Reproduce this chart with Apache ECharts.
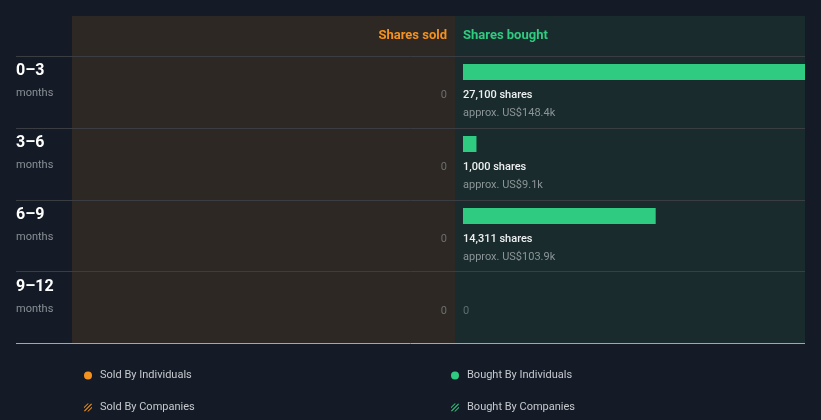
<!DOCTYPE html>
<html>
<head>
<meta charset="utf-8">
<script src="https://cdn.jsdelivr.net/npm/echarts@6/dist/echarts.min.js"></script>
<style>
html,body{margin:0;padding:0;background:#151b26;}
#c{width:821px;height:420px;}
</style>
</head>
<body>
<div id="c"></div>
<script>
const categories = ['0–3', '3–6', '6–9', '9–12'];
const rowUnit = 'months';
const soldByIndividuals = [0, 0, 0, 0];
const soldByCompanies = [0, 0, 0, 0];
const boughtByIndividuals = [27100, 1000, 14311, 0];
const boughtValueK = [148.4, 9.1, 103.9, 0];
const boughtByCompanies = [0, 0, 0, 0];
const boughtAxisMax = 25400;

const FONT = 'Roboto, "Noto Sans", sans-serif';
const ORANGE = '#f5911e';
const GREEN = '#2ecb80';
const hatch = 'path://M0,4.5 L4.5,0 L6,0 L0,6 Z M0,9 L9,0 L10,1 L1,10 Z M4,10 L10,4 L10,5.5 L5.5,10 Z';

function fmt(n) { return n.toLocaleString('en-US'); }

function soldItem(params, api) {
  const v = api.value(0), cat = api.value(1);
  const p0 = api.coord([0, cat]);
  return {
    type: 'text',
    style: { text: fmt(v), x: p0[0], y: p0[1] + 3, align: 'right', verticalAlign: 'middle',
      fill: '#6c6f72', font: '11px ' + FONT }
  };
}

function boughtItem(params, api) {
  const v = api.value(0), cat = api.value(1), usd = api.value(2);
  const p0 = api.coord([0, cat]);
  const p1 = api.coord([v, cat]);
  const bandH = api.size([0, 1])[1];
  const top = p0[1] - bandH / 2;
  const cs = params.coordSys;
  if (!v) {
    return { type: 'text', style: { text: '0', x: p0[0], y: p0[1] + 3, align: 'left', verticalAlign: 'middle',
      fill: '#5f6e70', font: '11px ' + FONT } };
  }
  const right = Math.min(p1[0], cs.x + cs.width);
  return {
    type: 'group',
    children: [
      { type: 'rect', shape: { x: p0[0], y: top + 8, width: right - p0[0], height: 16 }, style: { fill: GREEN } },
      { type: 'text', style: { text: fmt(v) + ' shares', x: p0[0], y: p0[1] + 3, align: 'left', verticalAlign: 'middle',
        fill: '#eef0f1', font: '500 11px ' + FONT } },
      { type: 'text', style: { text: 'approx. US$' + usd + 'k', x: p0[0], y: p0[1] + 21, align: 'left', verticalAlign: 'middle',
        fill: '#8b9597', font: '11px ' + FONT } }
    ]
  };
}

function companyItem(params, api) {
  const v = api.value(0), cat = api.value(1);
  if (!v) return null;
  const p0 = api.coord([0, cat]);
  const p1 = api.coord([v, cat]);
  const bandH = api.size([0, 1])[1];
  return { type: 'rect', shape: { x: Math.min(p0[0], p1[0]), y: p0[1] - bandH / 2 + 8, width: Math.abs(p1[0] - p0[0]), height: 16 },
    style: { fill: api.visual('color') } };
}

function legendAt(left, top, name, icon) {
  return { left: left, top: top, padding: 0, orient: 'horizontal', itemWidth: 8, itemHeight: 8, selectedMode: false,
    textStyle: { color: '#c5c9ce', fontSize: 11, lineHeight: 14, padding: [0, 0, 0, 3] },
    data: [{ name: name, icon: icon }] };
}

const hidden = { show: false };
const chart = echarts.init(document.getElementById('c'), null, { renderer: 'canvas' });
chart.setOption({
  backgroundColor: '#151b26',
  animation: false,
  textStyle: { fontFamily: FONT },
  grid: [
    { left: 72, width: 383, top: 16, height: 327, show: true, backgroundColor: '#2d2823', borderWidth: 0 },
    { left: 455, right: 16, top: 16, height: 327, show: true, backgroundColor: '#192b2d', borderWidth: 0 },
    { left: 16, right: 16, top: 56, height: 287.5 },
    { left: 72, width: 375, top: 56, height: 288 },
    { left: 463, right: 16, top: 56, height: 288 }
  ],
  xAxis: [
    { gridIndex: 0, type: 'value', show: false },
    { gridIndex: 1, type: 'value', show: false },
    { gridIndex: 2, type: 'value', min: 0, max: 1, show: false },
    { gridIndex: 3, type: 'value', inverse: true, min: 0, max: 1, show: false },
    { gridIndex: 4, type: 'value', min: 0, max: boughtAxisMax, show: false }
  ],
  yAxis: [
    { gridIndex: 0, type: 'value', show: false },
    { gridIndex: 1, type: 'value', show: false },
    { gridIndex: 2, type: 'category', inverse: true, data: categories,
      axisLine: hidden, axisTick: hidden,
      splitLine: { show: true, showMaxLine: false, lineStyle: { color: '#3a3e42', width: 1 } },
      axisLabel: { inside: true, margin: 0, align: 'left', verticalAlign: 'middle',
        formatter: v => '{a|' + v + '}\n{b|' + rowUnit + '}\n{c| }',
        rich: {
          a: { fontSize: 16, fontWeight: 'bold', color: '#ffffff', lineHeight: 22, fontFamily: FONT },
          b: { fontSize: 11, color: '#8a8f95', lineHeight: 22, fontFamily: FONT },
          c: { fontSize: 11, lineHeight: 19 }
        } } },
    { gridIndex: 3, type: 'category', inverse: true, data: categories, show: false },
    { gridIndex: 4, type: 'category', inverse: true, data: categories, show: false }
  ],
  graphic: [
    { type: 'text', x: 447, y: 35.5, style: { text: 'Shares sold', align: 'right', verticalAlign: 'middle', fill: ORANGE, font: 'bold 13px ' + FONT } },
    { type: 'text', x: 463, y: 35.5, style: { text: 'Shares bought', align: 'left', verticalAlign: 'middle', fill: GREEN, font: 'bold 13px ' + FONT } },
    { type: 'line', z: 100, shape: { x1: 16, y1: 343.5, x2: 805, y2: 343.5 }, style: { stroke: '#a3a7ab', lineWidth: 1 } }
  ],
  legend: [
    legendAt(84, 368.5, 'Sold By Individuals', 'circle'),
    legendAt(84, 400.5, 'Sold By Companies', hatch),
    legendAt(451, 368.5, 'Bought By Individuals', 'circle'),
    legendAt(451, 400.5, 'Bought By Companies', hatch)
  ],
  series: [
    { name: 'Sold By Individuals', type: 'custom', xAxisIndex: 3, yAxisIndex: 3, itemStyle: { color: ORANGE },
      encode: { x: 0, y: 1 }, renderItem: soldItem, data: soldByIndividuals.map((v, i) => [v, i]) },
    { name: 'Sold By Companies', type: 'custom', xAxisIndex: 3, yAxisIndex: 3, itemStyle: { color: ORANGE },
      encode: { x: 0, y: 1 }, renderItem: companyItem, data: soldByCompanies.map((v, i) => [v, i]) },
    { name: 'Bought By Individuals', type: 'custom', xAxisIndex: 4, yAxisIndex: 4, itemStyle: { color: GREEN },
      encode: { x: 0, y: 1 }, renderItem: boughtItem, data: boughtByIndividuals.map((v, i) => [v, i, boughtValueK[i]]) },
    { name: 'Bought By Companies', type: 'custom', xAxisIndex: 4, yAxisIndex: 4, itemStyle: { color: GREEN },
      encode: { x: 0, y: 1 }, renderItem: companyItem, data: boughtByCompanies.map((v, i) => [v, i]) }
  ]
});
</script>
</body>
</html>
